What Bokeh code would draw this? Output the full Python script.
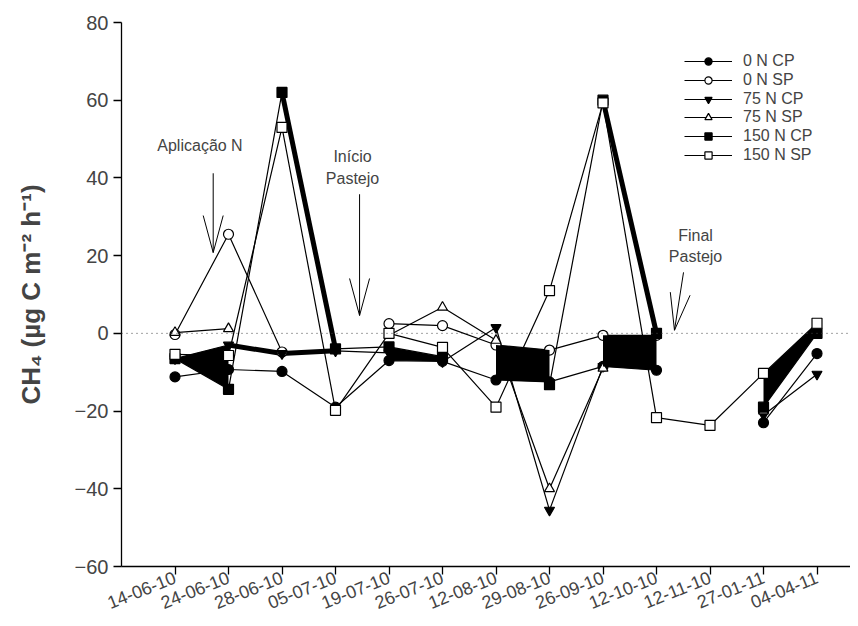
import math
from bokeh.plotting import figure
from bokeh.models import Range1d, FixedTicker, Span, Legend, LegendItem, Label
from bokeh.embed import file_html
from bokeh.resources import INLINE

nan = float("nan")

dates = ["14-06-10", "24-06-10", "28-06-10", "05-07-10", "19-07-10", "26-07-10", "12-08-10",
         "29-08-10", "26-09-10", "12-10-10", "12-11-10", "27-01-11", "04-04-11"]

n0_cp = [-11.2, -9.3, -9.8, -19.0, -7.0, -7.2, -12.0, -12.5, -8.5, -9.5, nan, -23.0, -5.2]
n0_sp = [-0.3, 25.5, -4.8, nan, 2.5, 2.0, -3.0, -4.3, -0.5, -0.5, nan, nan, nan]
n75_cp = [-6.5, -3.0, -5.2, -4.5, -5.0, -7.3, 1.5, -45.5, -8.5, nan, nan, -21.0, -10.5]
n75_sp = [0.2, 1.2, nan, nan, -0.5, 6.7, -1.8, -40.0, -9.0, nan, nan, -20.0, nan]
n150_cp = [-6.5, -14.4, 62.0, -4.0, -3.5, -6.0, nan, -13.2, 60.0, 0.0, nan, -19.0, 0.0]
n150_sp = [-5.4, -5.7, 53.0, -19.8, 0.0, -3.6, -19.0, 11.0, 59.3, -21.7, -23.7, -10.3, 2.6]

series_names = ["0 N CP", "0 N SP", "75 N CP", "75 N SP", "150 N CP", "150 N SP"]
series_vals = [n0_cp, n0_sp, n75_cp, n75_sp, n150_cp, n150_sp]
series_marker = ["circle", "circle", "inverted_triangle", "triangle", "square", "square"]
series_fill = ["black", "white", "black", "white", "black", "white"]

y_ticks = [-60, -40, -20, 0, 20, 40, 60, 80]

# dark overlapping areas: (upper series, lower series, first index, last index, drawn on top)
fills = [("75 N CP", "150 N CP", 0, 1, False), ("150 N CP", "0 N CP", 4, 5, False),
         ("0 N SP", "0 N CP", 6, 7, True), ("0 N SP", "0 N CP", 8, 9, True),
         ("150 N SP", "150 N CP", 11, 12, False)]
thick = [("150 N CP", 2, 3), ("150 N CP", 8, 9), ("75 N CP", 1, 3)]

# annotations: text, text x, text y, arrow start (x,y), arrow tip (x,y)
annotations = [
    ("Aplicação N", 1.467, 48.4, (1.714, 41.2), (1.714, 20.8)),
    ("Início\nPastejo", 4.318, 42.7, (4.45, 35.8), (4.45, 4.6)),
    ("Final\nPastejo", 10.73, 22.4, (10.505, 15.7), (10.336, 0.8)),
]

FONT = "Liberation Sans"
W, H = 850, 618
LEFT, TOP, BOTTOM = 121, 22, 52
UNIT = 53.5
x_end = (W - LEFT) / UNIT
x = list(range(1, len(dates) + 1))
FRAME_BOTTOM = H - BOTTOM  # page y of the x axis

p = figure(width=W, height=H, x_range=Range1d(0, x_end), y_range=Range1d(-60, 80),
           output_backend="svg", toolbar_location=None,
           min_border_left=LEFT, min_border_right=0, min_border_top=TOP, min_border_bottom=BOTTOM)
p.outline_line_color = None
p.grid.visible = False
p.background_fill_color = "white"

vals = dict(zip(series_names, series_vals))


def draw_fill(up, lo, i0, i1):
    p.varea(x=x[i0:i1 + 1], y1=vals[up][i0:i1 + 1], y2=vals[lo][i0:i1 + 1], fill_color="black")


for up, lo, i0, i1, top in fills:
    if not top:
        draw_fill(up, lo, i0, i1)

p.add_layout(Span(location=0, dimension="width", line_color="#444444", line_width=1, line_dash="1 4"))

items = []
line_rs = []
for nm, v in zip(series_names, series_vals):
    line_rs.append(p.line(x, v, line_color="black", line_width=1.2))
for nm, i0, i1 in thick:
    p.line(x[i0:i1 + 1], vals[nm][i0:i1 + 1], line_color="black", line_width=5)
for nm, v, mk, fc, lr in zip(series_names, series_vals, series_marker, series_fill, line_rs):
    sr = p.scatter(x, v, marker=mk, size=10, fill_color=fc, line_color="black", line_width=1.2)
    items.append(LegendItem(label=nm, renderers=[lr, sr]))

for up, lo, i0, i1, top in fills:
    if top:
        draw_fill(up, lo, i0, i1)

# annotations
sx = UNIT
sy = (H - TOP - BOTTOM) / 140.0
for txt, tx, ty, (x0, y0), (x1, y1) in annotations:
    p.add_layout(Label(x=tx, y=ty, text=txt, text_align="center", text_baseline="middle",
                       text_font=FONT, text_font_size="16px", text_line_height=1.25))
    p.segment(x0=[x0], y0=[y0], x1=[x1], y1=[y1], line_color="black", line_width=1)
    dx, dy = (x1 - x0) * sx, (y1 - y0) * sy
    n = math.hypot(dx, dy)
    ux, uy = dx / n, dy / n
    L, hw = 37, 10
    for s in (1, -1):
        bx = -L * ux + s * hw * (-uy)
        by = -L * uy + s * hw * ux
        p.segment(x0=[x1], y0=[y1], x1=[x1 + bx / sx], y1=[y1 + by / sy], line_color="black", line_width=1)

# legend: one row per entry, rows centred at page y 61 + i*18.8
ROW0, PITCH, ROW_H = 61, 18.8, 18
for i, it in enumerate(items):
    centre = ROW0 + i * PITCH
    lg = Legend(items=[it], location=(684 - LEFT, FRAME_BOTTOM - centre - ROW_H / 2),
                orientation="vertical", glyph_width=48, glyph_height=ROW_H, label_height=ROW_H,
                label_standoff=11, spacing=0, padding=0, margin=0,
                border_line_alpha=0, background_fill_alpha=0,
                label_text_font=FONT, label_text_font_size="16px")
    p.add_layout(lg)

# axes
p.yaxis.ticker = FixedTicker(ticks=y_ticks)
p.yaxis.major_tick_out = 8
p.yaxis.major_tick_in = 0
p.yaxis.minor_tick_line_color = None
p.yaxis.major_label_text_font = FONT
p.yaxis.major_label_text_font_size = "20px"
p.yaxis.axis_label = "CH₄ (µg C m⁻² h⁻¹)"
p.yaxis.axis_label_text_font = FONT
p.yaxis.axis_label_text_font_style = "bold"
p.yaxis.axis_label_text_font_size = "26px"
p.yaxis.axis_label_standoff = 26

p.xaxis.ticker = FixedTicker(ticks=x)
p.xaxis.major_label_overrides = {i: d for i, d in zip(x, dates)}
p.xaxis.major_tick_out = 8
p.xaxis.major_tick_in = 0
p.xaxis.minor_tick_line_color = None
p.xaxis.major_label_orientation = 0.38
p.xaxis.major_label_text_font = FONT
p.xaxis.major_label_text_font_size = "18px"
p.xaxis.major_label_standoff = 2
for ax in (p.xaxis, p.yaxis):
    ax.axis_line_width = 1.3
    ax.major_tick_line_width = 1.3

open("out.html", "w").write(file_html(p, INLINE))
